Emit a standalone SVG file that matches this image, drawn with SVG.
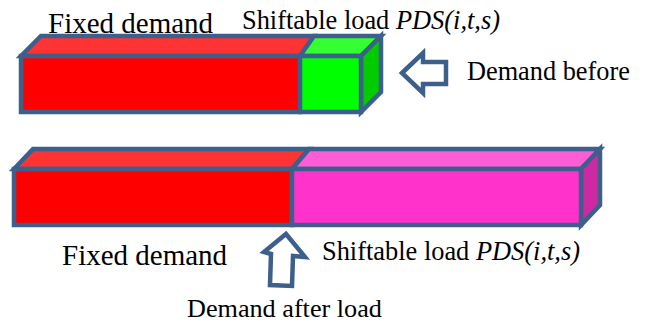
<svg xmlns="http://www.w3.org/2000/svg" width="646" height="323" viewBox="0 0 646 323">
<style>
.f{stroke:#3D5F8C;stroke-width:4.5;stroke-linejoin:miter}
.t{font-family:"Liberation Serif","Times New Roman",serif;fill:#000}
.i{font-style:italic}
</style>
<rect width="646" height="323" fill="#fff"/>
<g id="bar-before">
<polygon class="f" fill="#FF3333" points="21,56 41,36 314,36 300,56"/>
<polygon class="f" fill="#33FF33" points="300,56 314,36 381,36 361,56"/>
<polygon class="f" fill="#00CC00" points="361,56 381,36 381,92 361,112"/>
<rect class="f" fill="#FF0000" x="21" y="56" width="279" height="56"/>
<rect class="f" fill="#00FF00" x="300" y="56" width="61" height="56"/>
</g>
<g id="bar-after">
<polygon class="f" fill="#FF3333" points="14,169 33,149 309,149 292,169"/>
<polygon class="f" fill="#FF5CD6" points="292,169 309,149 600,149 581,169"/>
<polygon class="f" fill="#CC29A3" points="581,169 600,149 600,205 581,225"/>
<rect class="f" fill="#FF0000" x="14" y="169" width="278" height="56"/>
<rect class="f" fill="#FF33CC" x="292" y="169" width="289" height="56"/>
</g>
<g id="connectors">
<polygon class="f" fill="#fff" points="402,73 423,53 423,62 446,62 446,84 423,84 423,93"/>
<polygon class="f" fill="#fff" points="286,234 305,257 293,256 292,286 270,285 271,254 264,252"/>
</g>
<g id="labels">
<text class="t" x="48" y="33" font-size="29">Fixed demand</text>
<text class="t" x="242" y="29" font-size="26.4">Shiftable load <tspan class="i">PDS(i,t,s)</tspan></text>
<text class="t" x="467" y="80" font-size="26.3">Demand before</text>
<text class="t" x="62" y="265" font-size="29">Fixed demand</text>
<text class="t" x="322" y="260" font-size="26.4">Shiftable load <tspan class="i">PDS(i,t,s)</tspan></text>
<text class="t" x="187" y="317" font-size="26.2">Demand after load</text>
</g>
</svg>
